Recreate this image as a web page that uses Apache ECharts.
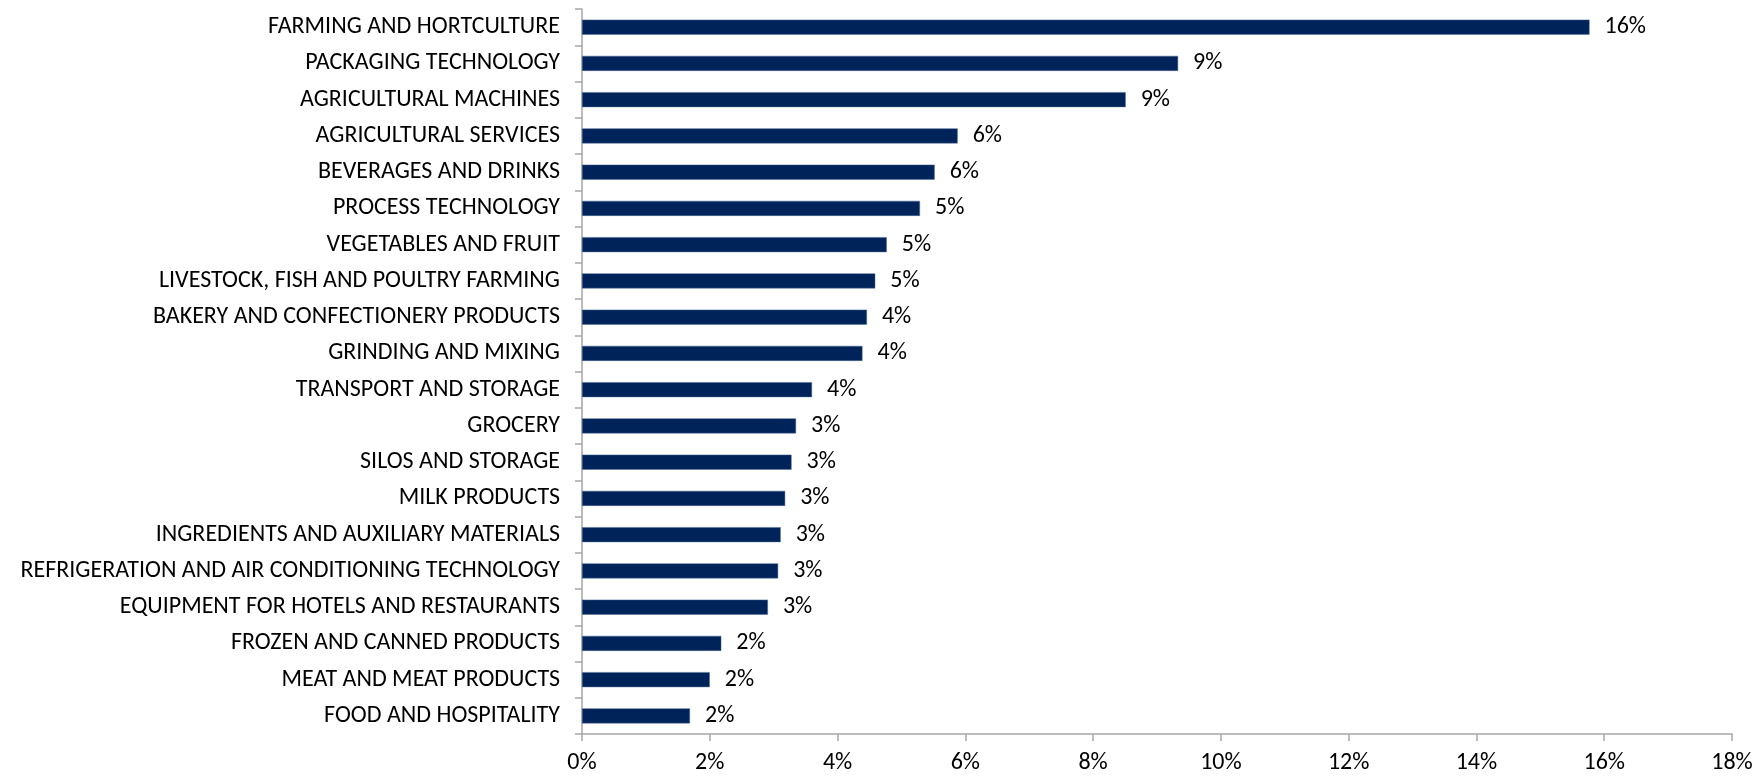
<!DOCTYPE html>
<html>
<head>
<meta charset="utf-8">
<script src="https://cdn.jsdelivr.net/npm/echarts@6/dist/echarts.min.js"></script>
<style>
html,body{margin:0;padding:0;background:#fff;}
#chart{width:1760px;height:776px;}
</style>
</head>
<body>
<div id="chart"></div>
<script>
const categories = [
  "FARMING AND HORTCULTURE",
  "PACKAGING TECHNOLOGY",
  "AGRICULTURAL MACHINES",
  "AGRICULTURAL SERVICES",
  "BEVERAGES AND DRINKS",
  "PROCESS TECHNOLOGY",
  "VEGETABLES AND FRUIT",
  "LIVESTOCK, FISH AND POULTRY FARMING",
  "BAKERY AND CONFECTIONERY PRODUCTS",
  "GRINDING AND MIXING",
  "TRANSPORT AND STORAGE",
  "GROCERY",
  "SILOS AND STORAGE",
  "MILK PRODUCTS",
  "INGREDIENTS AND AUXILIARY MATERIALS",
  "REFRIGERATION AND AIR CONDITIONING TECHNOLOGY",
  "EQUIPMENT FOR HOTELS AND RESTAURANTS",
  "FROZEN AND CANNED PRODUCTS",
  "MEAT AND MEAT PRODUCTS",
  "FOOD AND HOSPITALITY"
];
const shares = [15.77, 9.33, 8.51, 5.88, 5.52, 5.29, 4.77, 4.59, 4.46, 4.39, 3.60, 3.35, 3.28, 3.18, 3.11, 3.07, 2.91, 2.18, 2.00, 1.69];
const xTicks = { min: 0, max: 18, interval: 2 };

const FONT = 'Carlito, Calibri, Lato, sans-serif';
const chart = echarts.init(document.getElementById('chart'));
chart.setOption({
  animation: false,
  backgroundColor: '#ffffff',
  grid: { left: 582, right: 28, top: 9, bottom: 42, containLabel: false },
  xAxis: {
    type: 'value',
    min: xTicks.min, max: xTicks.max, interval: xTicks.interval,
    axisLine: { show: true, lineStyle: { color: '#a6a6a6', width: 1.5 } },
    axisTick: { show: true, length: 7, lineStyle: { color: '#a6a6a6', width: 1.5 } },
    splitLine: { show: false },
    axisLabel: { color: '#000', fontFamily: FONT, fontSize: 24, margin: 17, formatter: v => v + '%' }
  },
  yAxis: {
    type: 'category',
    data: categories,
    inverse: true,
    axisLine: { show: true, lineStyle: { color: '#a6a6a6', width: 1.5 } },
    axisTick: { show: true, length: 7, lineStyle: { color: '#a6a6a6', width: 1.5 } },
    axisLabel: { color: '#000', fontFamily: FONT, fontSize: 24, margin: 22 }
  },
  series: [{
    type: 'bar',
    data: shares,
    barWidth: 15,
    itemStyle: { color: '#002359', borderColor: '#4a6a96', borderWidth: 0.5 },
    label: {
      show: true, position: 'right', distance: 15,
      color: '#000', fontFamily: FONT, fontSize: 24,
      formatter: p => Math.round(p.value) + '%'
    }
  }]
});
</script>
</body>
</html>
